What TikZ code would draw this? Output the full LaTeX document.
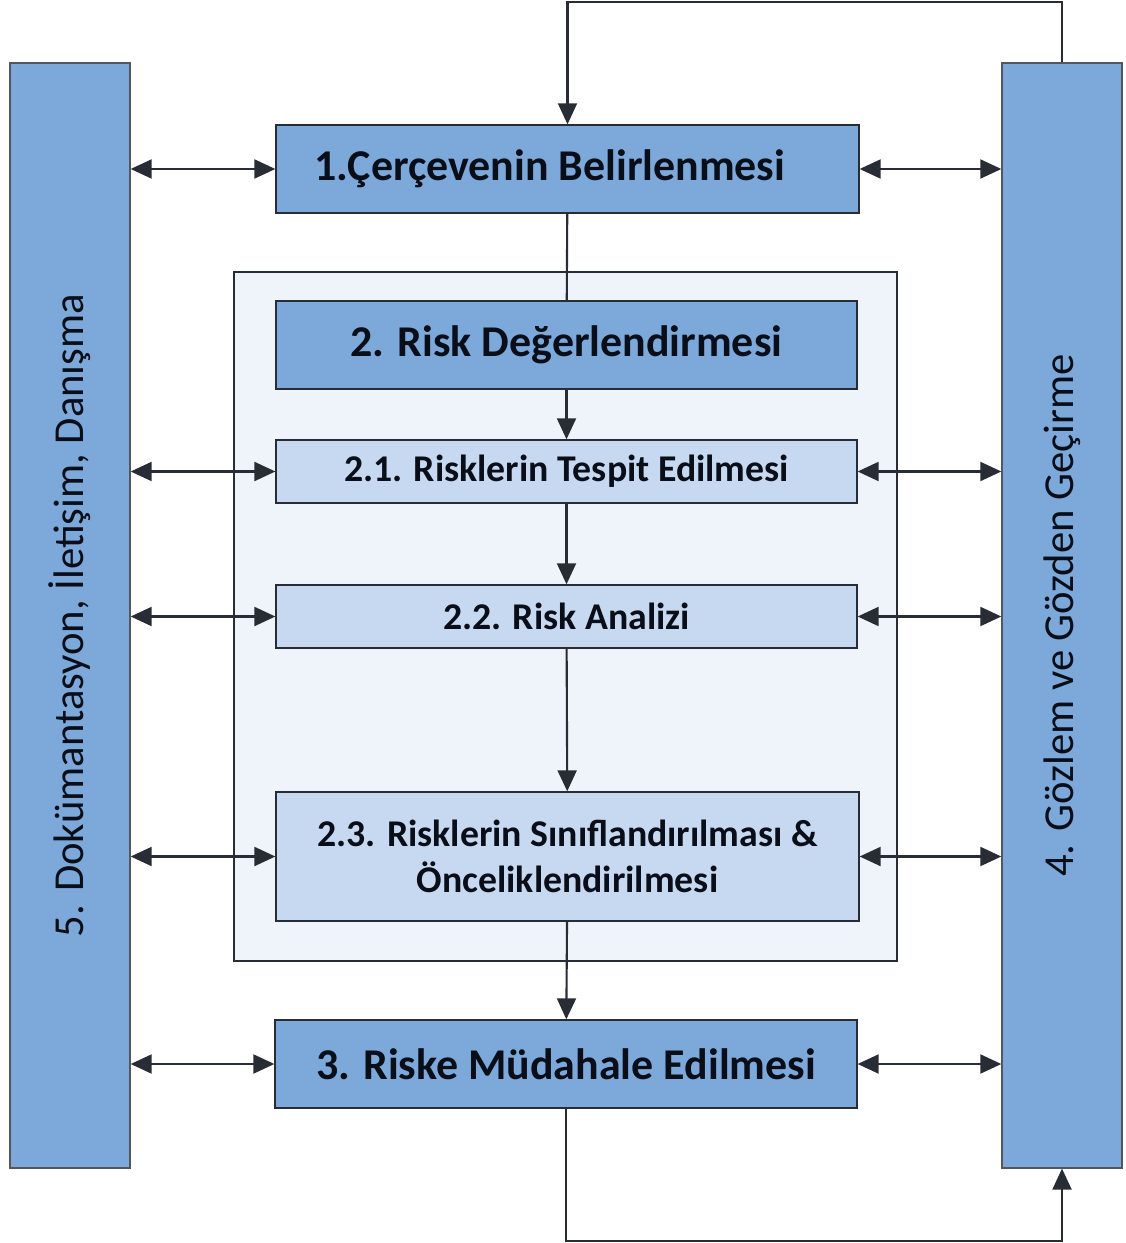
\documentclass[tikz,border=0pt]{standalone}
\usepackage{fontspec}
\setmainfont{Carlito}
\usepackage{tikz}
\usepackage{xcolor}
\usetikzlibrary{arrows.meta, positioning}
\definecolor{cDark}{RGB}{124,168,218}
\definecolor{cLight}{RGB}{198,217,240}
\definecolor{cPale}{RGB}{239,243,250}
\definecolor{cLine}{RGB}{40,44,52}
\definecolor{cText}{RGB}{10,14,24}
\tikzset{
	mainbox/.style ={rectangle, draw=cLine, line width=0.8pt, fill=cDark, align=center, text=cText, font=\fontsize{25}{30}\selectfont\bfseries, minimum width=11.62cm, minimum height=1.76cm},
	subbox/.style  ={rectangle, draw=cLine, line width=0.8pt, fill=cLight, align=center, text=cText, font=\fontsize{21.5}{26}\selectfont\bfseries, minimum width=11.62cm, minimum height=1.26cm},
	sidebar/.style ={rectangle, draw=cLine!80, line width=0.8pt, fill=cDark, text=cText, font=\fontsize{24.3}{28}\selectfont, minimum width=2.4cm, minimum height=22.1cm},
	% connectors
	sig/.style     ={-{Triangle[length=0.42cm, width=0.38cm]}, line width=1.2pt, draw=cLine},
	both/.style    ={{Triangle[length=0.42cm, width=0.38cm]}-{Triangle[length=0.42cm, width=0.38cm]}, line width=1.2pt, draw=cLine},
}
\begin{document}
\begin{tikzpicture}[x=0.02cm, y=-0.02cm]
	\useasboundingbox (0,0) rectangle (1125,1243);
	\node[rectangle, draw=cLine, line width=0.8pt, fill=cPale, minimum width=13.26cm, minimum height=13.78cm] (ra) at (565.5,616.5) {};
	\node[sidebar] (lbar) at (70,615.5) {\rotatebox{90}{5. Dokümantasyon, İletişim, Danışma}};
	\node[sidebar] (rbar) at (1062,615.5) {\rotatebox{90}{4. Gözlem ve Gözden Geçirme}};
	\node[mainbox, minimum width=11.66cm] (b1) at (567.5,169) {1.Çerçevenin Belirlenmesi\hspace*{0.7cm}};
	\node[mainbox] (b2) at (566.5,345) {2. Risk Değerlendirmesi};
	\node[subbox] (b21) at (566.5,471.5) {2.1. Risklerin Tespit Edilmesi};
	\node[subbox] (b22) at (566.5,616.5) {2.2. Risk Analizi};
	\node[subbox, minimum width=11.66cm, minimum height=2.58cm] (b23) at (567.5,856.5) {2.3. Risklerin Sınıflandırılması \&\\ Önceliklendirilmesi};
	\node[mainbox, minimum width=11.64cm] (b3) at (566,1064) {3. Riske Müdahale Edilmesi};
	\draw[line width=1.2pt, draw=cLine] (b1) -- (b2);
	\draw[sig] (b2) -- (b21); \draw[sig] (b21) -- (b22); \draw[sig] (b22) -- (b23); \draw[sig] (b23) -- (b3);
	\draw[sig] (rbar.north) -- ++(0,-60) -| (b1.north);
	\draw[sig] (b3.south) -- ++(0,132) -| (rbar.south);
	\foreach \b in {b1, b21, b22, b23, b3} {
		\draw[both] (lbar.east |- \b.west) -- (\b.west);
		\draw[both] (\b.east) -- (rbar.west |- \b.east);
	}
\end{tikzpicture}
\end{document}
